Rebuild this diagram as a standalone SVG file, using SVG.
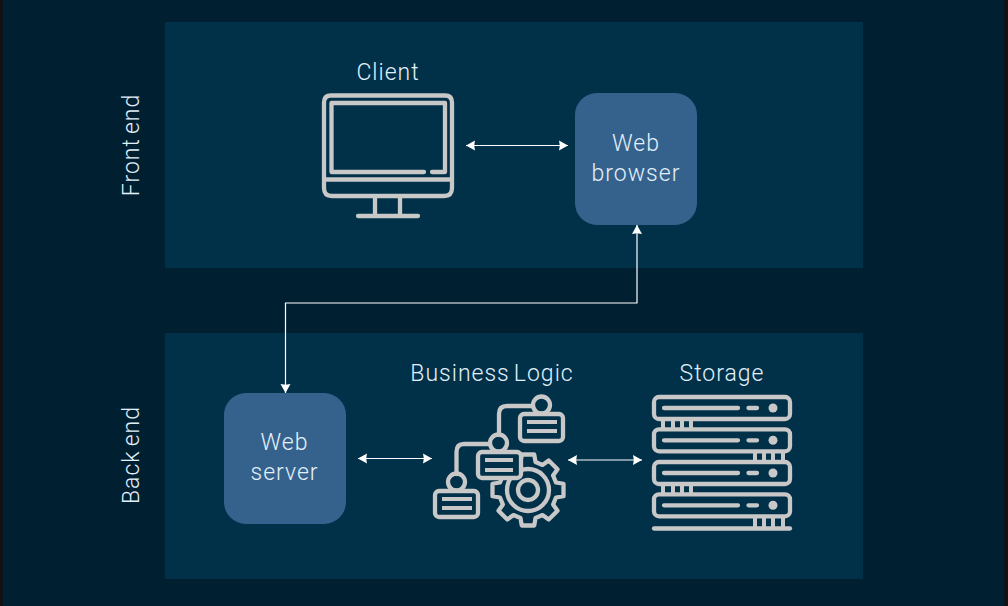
<svg xmlns="http://www.w3.org/2000/svg" width="1008" height="606" viewBox="0 0 1008 606">
<style>
.t{font-family:"Roboto","Liberation Sans",sans-serif;font-weight:300;font-size:23px;letter-spacing:1px;word-spacing:-2.500px;fill:#e2f0fa;text-anchor:middle}
.panel{fill:#013049}
.box{fill:#35628c}
.ic{fill:none;stroke:#c8c8c8;stroke-width:4.300;stroke-linecap:round;stroke-linejoin:round}
.bx{fill:#013049;stroke:#c8c8c8;stroke-width:4.300;stroke-linejoin:round}
.bar{fill:none;stroke:#c8c8c8;stroke-width:4}
.dot{fill:#c8c8c8}
.c{fill:none;stroke:#fff;stroke-width:1.200}
.ah{fill:#fff}
</style>
<defs>
<marker id="a" markerUnits="userSpaceOnUse" markerWidth="9" markerHeight="11" refX="9" refY="5.500" orient="auto-start-reverse"><path class="ah" d="M0 0.500L9 5.500L0 10.500L0.800 5.500Z"/></marker>
<g id="unit">
<rect class="ic" x="654" y="0" width="136" height="22" rx="5"/>
<path class="ic" d="M664 11H738M748.500 11H757"/>
<circle class="dot" cx="773" cy="11" r="4.500"/>
</g>
</defs>
<rect width="1008" height="606" fill="#001f31"/>
<rect x="0" y="0" width="3" height="606" fill="#101314"/>
<rect x="1004" y="0" width="4" height="606" fill="#101314"/>
<rect class="panel" id="front-panel" x="165" y="22" width="698" height="246"/>
<rect class="panel" id="back-panel" x="165" y="333" width="698" height="246"/>
<g id="front-label"><text class="t" transform="translate(139 145) rotate(-90)">Front end</text></g>
<g id="back-label"><text class="t" transform="translate(139 455) rotate(-90)">Back end</text></g>
<g id="client">
<text class="t" x="388" y="80">Client</text>
<path class="ic" d="M331 95.500H445Q452 95.500 452 102.500V188Q452 196 444 196H332Q324 196 324 188V102.500Q324 95.500 331 95.500Z"/>
<path class="ic" d="M325 179.500H451"/>
<path class="ic" d="M424 172H331.500V103H445V172H432"/>
<path class="ic" d="M375 198V215M400 198V215M358 216H418"/>
</g>
<g id="web-browser">
<rect class="box" x="575" y="93" width="122" height="132" rx="22"/>
<text class="t" x="636" y="151">Web</text>
<text class="t" x="636" y="181">browser</text>
</g>
<g id="web-server">
<rect class="box" x="224" y="393" width="122" height="131" rx="22"/>
<text class="t" x="284.500" y="450">Web</text>
<text class="t" x="284.500" y="480">server</text>
</g>
<g id="business-logic">
<text class="t" x="492" y="381">Business Logic</text>
<g transform="translate(528 490)">
<path class="ic" d="M28-7.500L35.500-6.250V6.250L28 7.500L25.100 14.500L29.500 20.700L20.700 29.500L14.500 25.100L7.500 28L6.250 35.500H-6.250L-7.500 28L-14.500 25.100L-20.700 29.500L-29.500 20.700L-25.100 14.500L-28 7.500L-35.500 6.250V-6.250L-28-7.500L-25.100-14.500L-29.500-20.700L-20.700-29.500L-14.500-25.100L-7.500-28L-6.250-35.500H6.250L7.500-28L14.500-25.100L20.700-29.500L29.500-20.700L25.100-14.500Z"/>
<circle class="ic" r="21"/>
<circle class="ic" r="10"/>
</g>
<path class="ic" d="M533 406H507Q499 406 499 414V435"/>
<path class="ic" d="M490 444H464Q456.500 444 456.500 452V474"/>
<circle class="ic" cx="541.500" cy="405" r="8.500"/>
<circle class="ic" cx="498.500" cy="443" r="8.500"/>
<circle class="ic" cx="456.500" cy="482" r="8.500"/>
<rect class="bx" x="520" y="414" width="43" height="27" rx="4"/>
<rect class="bx" x="478" y="452" width="43" height="26" rx="4"/>
<rect class="bx" x="435" y="491" width="43" height="26" rx="4"/>
<path class="bar" d="M527 422H557M527 431H557M485 460H513M485 470H513M442 499H472M442 508H472"/>
</g>
<g id="storage">
<text class="t" x="722" y="381">Storage</text>
<use href="#unit" y="397"/>
<use href="#unit" y="429.300"/>
<use href="#unit" y="462"/>
<use href="#unit" y="494.300"/>
<path class="bar" d="M663 420V428M673 420V428M682 420V428M691 420V428"/>
<path class="bar" d="M755 452V460M764 452V460M773 452V460M783 452V460"/>
<path class="bar" d="M663 485V493M673 485V493M682 485V493M691 485V493"/>
<path class="bar" d="M755 517V527M764 517V527M773 517V527M783 517V527"/>
<path class="ic" d="M654 528.500H790"/>
</g>
<g id="connectors">
<path class="c" marker-start="url(#a)" marker-end="url(#a)" d="M466 145.500H568"/>
<path class="c" marker-start="url(#a)" marker-end="url(#a)" d="M358 458.500H432"/>
<path class="c" marker-start="url(#a)" marker-end="url(#a)" d="M568 460H642"/>
<path class="c" marker-start="url(#a)" marker-end="url(#a)" d="M637 225V303H285.500V393"/>
</g>
</svg>
